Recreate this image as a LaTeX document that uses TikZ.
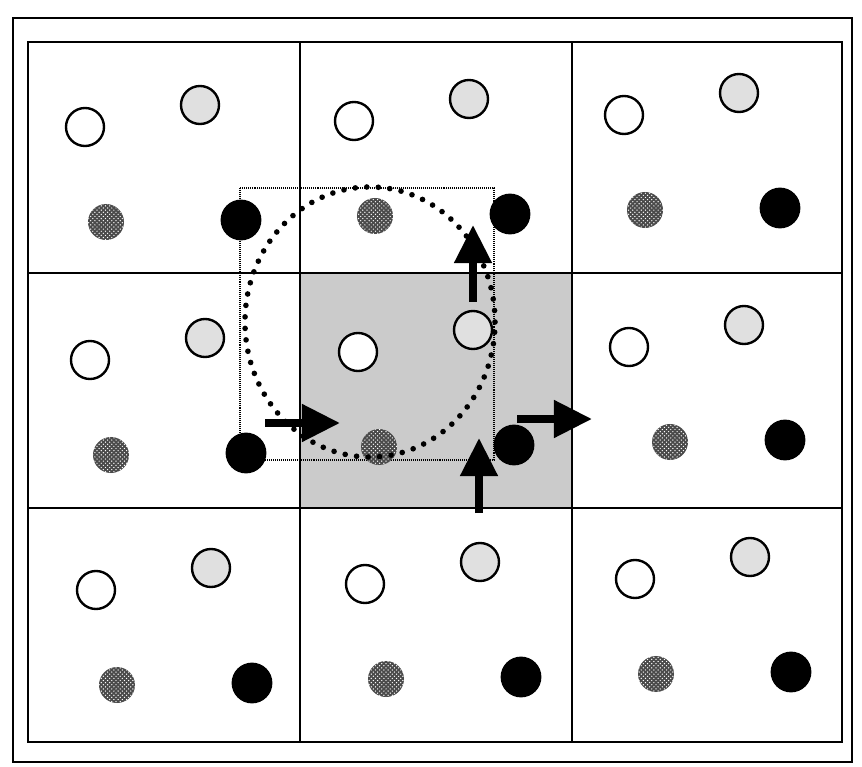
\documentclass[tikz,border=0pt]{standalone}
\usepackage{xcolor}
\usepackage{tikz}
\usetikzlibrary{arrows.meta,patterns}
\definecolor{cellshade}{HTML}{CBCBCB}
\definecolor{lightdisc}{HTML}{E0E0E0}
\definecolor{halftone}{HTML}{4A4A4A}
\tikzset{
  frameline/.style={
    line width=1.3pt,
    draw=black
  },
  gridline/.style={
    line width=0.9pt,
    draw=black
  },
  disc/.style={
    circle,
    inner sep=0pt,
    minimum size=0.95cm
  },
  whitedisc/.style={
    disc,
    draw=black,
    line width=1.7pt,
    fill=white
  },
  greydisc/.style={
    whitedisc,
    fill=lightdisc
  },
  dotdisc/.style={
    disc,
    minimum size=0.9cm,
    fill=halftone,
    postaction={pattern=crosshatch dots, pattern color=white}
  },
  blackdisc/.style={
    disc,
    minimum size=1.02cm,
    fill=black
  },
  searchring/.style={
    line width=4pt,
    line cap=round,
    dash pattern=on 0pt off 8.2pt
  },
  searchbox/.style={
    line width=1pt,
    dash pattern=on 0.7pt off 0.7pt
  },
  movearrow/.style={
    -{Triangle[length=0.95cm,width=0.9cm]},
    line width=5.5pt,
    draw=black
  }
}

\begin{document}
\begin{tikzpicture}[x=0.025cm,y=-0.025cm]
    \useasboundingbox (0,0) rectangle (862,767);

    % outer frame and centre cell
    \draw[frameline] (13,18) rectangle (852,762);
    \fill[cellshade] (300,273) rectangle (572,508);

    % 3x3 cells
    \draw[gridline] (28,42) rectangle (842,742);
    \foreach \gx in {300,572}
        \draw[gridline] (\gx,42) -- (\gx,742);
    \foreach \gy in {273,508}
        \draw[gridline] (28,\gy) -- (842,\gy);

    % search window
    \draw[searchbox] (240,188) rectangle (494,460);

    % particles in every cell
    \foreach \i/\x/\y/\dx in {1/85/127/21, 2/354/121/21, 3/624/115/21,
                              4/90/360/21, 5/358/352/21, 6/629/347/41,
                              7/96/590/21, 8/365/584/21, 9/635/579/21} {
        \node[whitedisc] (w\i) at (\x,\y) {};
        \node[greydisc] (lg\i) at (\x+115,\y-22) {};
        \node[dotdisc] (ht\i) at (\x+\dx,\y+95) {};
        \node[blackdisc] (bk\i) at (\x+156,\y+93) {};
    }

    % cutoff circle
    \coordinate (ctr) at (370,322);
    \draw[searchring] (ctr) ellipse [x radius=3.125cm, y radius=3.375cm];

    % moves
    \coordinate (la) at (265,423);
    \coordinate (lb) at (340,423);
    \coordinate (ta) at (473,302);
    \coordinate (tb) at (473,225);
    \coordinate (ba) at (479,513);
    \coordinate (bb) at (479,438);
    \coordinate (ra) at (517,419);
    \coordinate (rb) at (592,419);
    \draw[movearrow] (la) -- (lb);
    \draw[movearrow] (ta) -- (tb);
    \draw[movearrow] (ba) -- (bb);
    \draw[movearrow] (ra) -- (rb);
\end{tikzpicture}
\end{document}
